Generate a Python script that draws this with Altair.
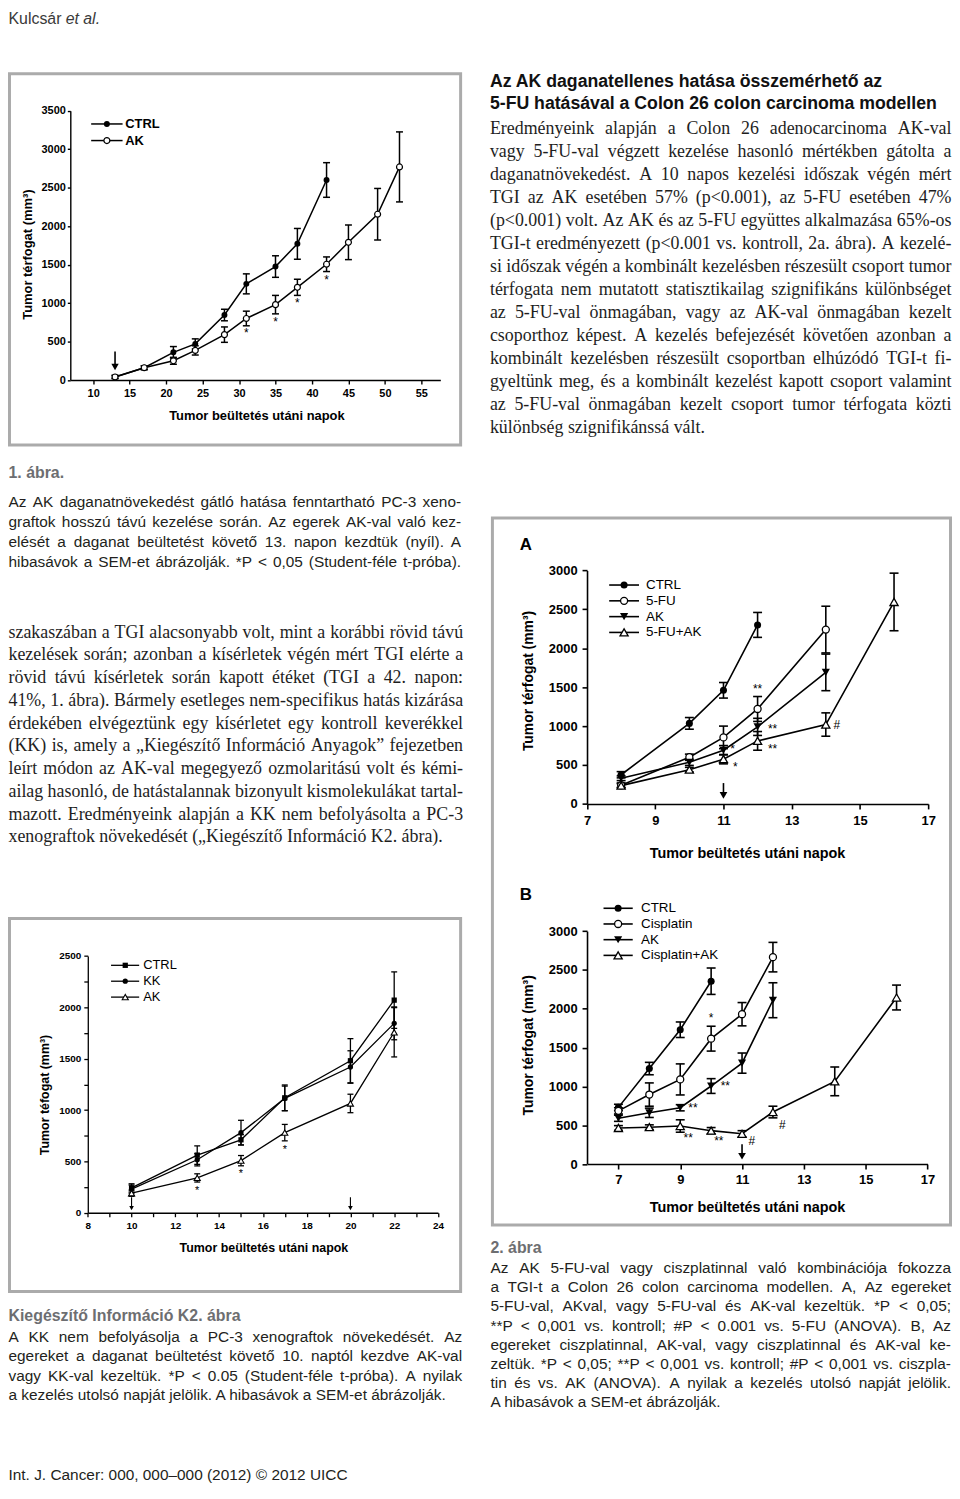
import unicodedata
import altair as alt
import pandas as pd

SANS = "Liberation Sans"
SERIF = "Liberation Serif"
W, H = 950, 1478
OX = OY = 8

# ---------------- data ----------------
# Figure 1 (PC-3, long-term AK treatment)
f1_ctrl_days = [13, 17, 21, 24, 28, 31, 35, 38, 42]
f1_ctrl_vals = [40, 160, 360, 470, 845, 1250, 1475, 1770, 2600]
f1_ctrl_sem = [20, 25, 75, 65, 75, 130, 140, 200, 225]
f1_ak_days = [13, 17, 21, 24, 28, 31, 35, 38, 42, 45, 49, 52]
f1_ak_vals = [40, 160, 250, 385, 590, 800, 980, 1205, 1505, 1790, 2155, 2770]
f1_ak_sem = [20, 25, 45, 60, 100, 95, 120, 105, 95, 225, 335, 455]
f1_star_days = [31, 35, 38, 42]
f1_star_vals = [610, 750, 995, 1305]
f1_star_text = ["*", "*", "*", "*"]
f1_arrow_days = [13]
f1_arrow_top = [370]
f1_arrow_head = [170]
f1_xticks = [10, 15, 20, 25, 30, 35, 40, 45, 50, 55]
f1_yticks = [0, 500, 1000, 1500, 2000, 2500, 3000, 3500]
f1_names = ["CTRL", "AK"]

# Figure 2A (Colon 26, 5-FU)
a_ctrl_days = [8, 10, 11, 12]
a_ctrl_vals = [375, 1035, 1460, 2300]
a_ctrl_sem = [40, 75, 100, 160]
a_fu_days = [8, 10, 11, 12, 14]
a_fu_vals = [240, 600, 855, 1220, 2240]
a_fu_sem = [30, 40, 145, 160, 300]
a_ak_days = [8, 10, 11, 12, 14]
a_ak_vals = [330, 535, 690, 990, 1690]
a_ak_sem = [30, 40, 60, 110, 235]
a_fuak_days = [8, 10, 11, 12, 14, 16]
a_fuak_vals = [235, 440, 575, 810, 1020, 2595]
a_fuak_sem = [25, 30, 60, 120, 150, 370]
a_star_days = [12, 11.27, 11.35, 12.44, 12.44, 14.32]
a_star_vals = [1470, 700, 472, 965, 700, 1010]
a_star_text = ["**", "*", "*", "**", "**", "#"]
a_arrow_days = [11]
a_arrow_top = [268]
a_arrow_head = [110]
a_xticks = [7, 9, 11, 13, 15, 17]
a_yticks = [0, 500, 1000, 1500, 2000, 2500, 3000]
a_names = ["CTRL", "5-FU", "AK", "5-FU+AK"]

# Figure 2B (Colon 26, cisplatin)
b_ctrl_days = [7, 8, 9, 10]
b_ctrl_vals = [730, 1230, 1730, 2355]
b_ctrl_sem = [40, 80, 100, 170]
b_cis_days = [7, 8, 9, 10, 11, 12]
b_cis_vals = [685, 895, 1090, 1615, 1930, 2665]
b_cis_sem = [40, 150, 200, 160, 150, 190]
b_ak_days = [7, 8, 9, 10, 11, 12]
b_ak_vals = [590, 660, 725, 1005, 1300, 2110]
b_ak_sem = [40, 60, 40, 95, 130, 225]
b_cisak_days = [7, 8, 9, 10, 11, 12, 14, 16]
b_cisak_vals = [465, 475, 490, 430, 390, 670, 1065, 2145]
b_cisak_sem = [30, 30, 80, 40, 40, 75, 185, 160]
b_star_days = [10, 10.46, 9.41, 9.26, 10.25, 11.32, 12.3]
b_star_vals = [1880, 1010, 726, 333, 298, 298, 504]
b_star_text = ["*", "**", "**", "**", "**", "#", "#"]
b_arrow_days = [11]
b_arrow_top = [256]
b_arrow_head = [100]
b_xticks = [7, 9, 11, 13, 15, 17]
b_yticks = [0, 500, 1000, 1500, 2000, 2500, 3000]
b_names = ["CTRL", "Cisplatin", "AK", "Cisplatin+AK"]

# Supplementary K2 (PC-3, KK control)
k_ctrl_days = [10, 13, 15, 17, 20, 22]
k_ctrl_vals = [242, 561, 710, 1119, 1480, 2070]
k_ctrl_sem = [40, 90, 50, 125, 215, 275]
k_kk_days = [10, 13, 15, 17, 20, 22]
k_kk_vals = [230, 516, 780, 1113, 1419, 1844]
k_kk_sem = [40, 60, 120, 120, 158, 160]
k_ak_days = [10, 13, 15, 17, 20, 22]
k_ak_vals = [190, 339, 507, 780, 1064, 1757]
k_ak_sem = [30, 40, 50, 80, 90, 240]
k_star_days = [13, 15, 17]
k_star_vals = [216, 377, 609]
k_star_text = ["*", "*", "*"]
k_arrow_days = [10, 20]
k_arrow_top = [152, 152]
k_arrow_head = [45, 45]
k_xticks = list(range(8, 25))
k_yticks = list(range(0, 2501, 250))
k_names = ["CTRL", "KK", "AK"]

# ---------------- texts ----------------
header_a = "Kulcsár"
header_b = "et al."
right_heading = ["Az AK daganatellenes hatása összemérhető az",
                 "5-FU hatásával a Colon 26 colon carcinoma modellen"]
right_body = [
    "Eredményeink alapján a Colon 26 adenocarcinoma AK-val",
    "vagy 5-FU-val végzett kezelése hasonló mértékben gátolta a",
    "daganatnövekedést. A 10 napos kezelési időszak végén mért",
    "TGI az AK esetében 57% (p<0.001), az 5-FU esetében 47%",
    "(p<0.001) volt. Az AK és az 5-FU együttes alkalmazása 65%-os",
    "TGI-t eredményezett (p<0.001 vs. kontroll, 2a. ábra). A kezelé-",
    "si időszak végén a kombinált kezelésben részesült csoport tumor",
    "térfogata nem mutatott statisztikailag szignifikáns különbséget",
    "az 5-FU-val önmagában, vagy az AK-val önmagában kezelt",
    "csoporthoz képest. A kezelés befejezését követően azonban a",
    "kombinált kezelésben részesült csoportban elhúzódó TGI-t fi-",
    "gyeltünk meg, és a kombinált kezelést kapott csoport valamint",
    "az 5-FU-val önmagában kezelt csoport tumor térfogata közti",
    "különbség szignifikánssá vált.",
]
cap1_head = "1. ábra."
cap1_lines = [
    "Az AK daganatnövekedést gátló hatása fenntartható PC-3 xeno-",
    "graftok hosszú távú kezelése során. Az egerek AK-val való kez-",
    "elését a daganat beültetést követő 13. napon kezdtük (nyíl). A",
    "hibasávok a SEM-et ábrázolják. *P < 0,05 (Student-féle t-próba).",
]
left_body = [
    "szakaszában a TGI alacsonyabb volt, mint a korábbi rövid távú",
    "kezelések során; azonban a kísérletek végén mért TGI elérte a",
    "rövid távú kísérletek során kapott étéket (TGI a 42. napon:",
    "41%, 1. ábra). Bármely esetleges nem-specifikus hatás kizárása",
    "érdekében elvégeztünk egy kísérletet egy kontroll keverékkel",
    "(KK) is, amely a „Kiegészítő Információ Anyagok” fejezetben",
    "leírt módon az AK-val megegyező ozmolaritású volt és kémi-",
    "ailag hasonló, de hatástalannak bizonyult kismolekulákat tartal-",
    "mazott. Eredményeink alapján a KK nem befolyásolta a PC-3",
    "xenograftok növekedését („Kiegészítő Információ K2. ábra).",
]
capk_head = "Kiegészítő Információ K2. ábra"
capk_lines = [
    "A KK nem befolyásolja a PC-3 xenograftok növekedését. Az",
    "egereket a daganat beültetést követő 10. naptól kezdve AK-val",
    "vagy KK-val kezeltük. *P < 0.05 (Student-féle t-próba). A nyilak",
    "a kezelés utolsó napját jelölik. A hibasávok a SEM-et ábrázolják.",
]
cap2_head = "2. ábra"
cap2_lines = [
    "Az AK 5-FU-val vagy ciszplatinnal való kombinációja fokozza",
    "a TGI-t a Colon 26 colon carcinoma modellen. A, Az egereket",
    "5-FU-val, AKval, vagy 5-FU-val és AK-val kezeltük. *P < 0,05;",
    "**P < 0,001 vs. kontroll; #P < 0.001 vs. 5-FU (ANOVA). B, Az",
    "egereket ciszplatinnal, AK-val, vagy ciszplatinnal és AK-val ke-",
    "zeltük. *P < 0,05; **P < 0,001 vs. kontroll; #P < 0,001 vs. ciszpla-",
    "tin és vs. AK (ANOVA). A nyilak a kezelés utolsó napját jelölik.",
    "A hibasávok a SEM-et ábrázolják.",
]
footer = "Int. J. Cancer: 000, 000–000 (2012) © 2012 UICC"
x_title = "Tumor beültetés utáni napok"

# ---------------- font metrics (Arial / Times compatible) ----------------
ARIAL = {" ": 278, "#": 556, "%": 889, "(": 333, ")": 333, "*": 389, "+": 584, ",": 278,
         "-": 333, ".": 278, ":": 278, ";": 278, "<": 584, "–": 556, "„": 333, "”": 333,
         "©": 737}
for c in "0123456789":
    ARIAL[c] = 556
ARIAL.update(dict(zip("ABCDEFGHIJKLMNOPQRSTUVWXYZ",
                      [667, 667, 722, 722, 667, 611, 778, 722, 278, 500, 667, 556, 833,
                       722, 778, 667, 778, 722, 667, 611, 722, 667, 944, 667, 667, 611])))
ARIAL.update(dict(zip("abcdefghijklmnopqrstuvwxyz",
                      [556, 556, 500, 556, 556, 278, 556, 556, 222, 222, 500, 222, 833,
                       556, 556, 556, 556, 333, 500, 278, 556, 500, 722, 500, 500, 500])))
TIMES = {" ": 250, "#": 500, "%": 833, "(": 333, ")": 333, "*": 500, "+": 564, ",": 250,
         "-": 333, ".": 250, ":": 278, ";": 278, "<": 564, "–": 500, "„": 444, "”": 444}
for c in "0123456789":
    TIMES[c] = 500
TIMES.update(dict(zip("ABCDEFGHIJKLMNOPQRSTUVWXYZ",
                      [722, 667, 667, 722, 611, 556, 722, 722, 333, 389, 722, 611, 889,
                       722, 722, 556, 722, 667, 556, 611, 722, 722, 944, 722, 722, 611])))
TIMES.update(dict(zip("abcdefghijklmnopqrstuvwxyz",
                      [444, 500, 444, 500, 444, 333, 500, 500, 278, 278, 500, 278, 778,
                       500, 500, 500, 500, 333, 389, 278, 500, 500, 722, 500, 500, 444])))


def text_width(s, table, fs):
    tot = 0
    for ch in s:
        if ch in table:
            tot += table[ch]
        else:
            tot += table.get(unicodedata.normalize("NFD", ch)[0], 500)
    return tot * fs / 1000.0


# ---------------- helpers ----------------
def px(v):
    return v - OX


def py(v):
    return v - OY


def span(d0, d1, v0, p0, v1, p1, off):
    k = (p1 - p0) / (v1 - v0)
    return [p0 + (d0 - v0) * k - off, p0 + (d1 - v0) * k - off]


STYLES = {
    "fcircle": dict(shape="circle", filled=True, color="black"),
    "ocircle": dict(shape="circle", filled=True, fill="white", stroke="black"),
    "ftri": dict(shape="triangle-down", filled=True, color="black"),
    "otri": dict(shape="triangle-up", filled=True, fill="white", stroke="black"),
    "fsquare": dict(shape="square", filled=True, color="black"),
}


def xaxis(values, axis_y, fs, tick, pad, tfs, tx, ty, lw, expr=None):
    kw = dict(orient="bottom", offset=py(axis_y) - H, values=values, format="d",
              grid=False, domainColor="black", domainWidth=lw, tickColor="black",
              tickWidth=lw, tickSize=tick, labelPadding=pad, labelFont=SANS,
              labelFontWeight="bold", labelFontSize=fs, labelColor="black",
              labelFlush=False, labelOverlap=False, title=x_title, titleFont=SANS,
              titleFontWeight="bold", titleFontSize=tfs, titleColor="black",
              titleX=px(tx), titleY=ty - axis_y, titleAlign="center",
              titleBaseline="middle", titleAngle=0)
    if expr:
        kw["labelExpr"] = expr
    return alt.Axis(**kw)


def yaxis(values, axis_x, fs, tick, pad, title, tfs, tx, ty, lw, expr=None):
    kw = dict(orient="left", offset=-px(axis_x), values=values, format="d",
              grid=False, domainColor="black", domainWidth=lw, tickColor="black",
              tickWidth=lw, tickSize=tick, labelPadding=pad, labelFont=SANS,
              labelFontWeight="bold", labelFontSize=fs, labelColor="black",
              labelFlush=False, labelOverlap=False, title=title, titleFont=SANS,
              titleFontWeight="bold", titleFontSize=tfs, titleColor="black",
              titleX=tx - axis_x, titleY=py(ty), titleAlign="center",
              titleBaseline="middle", titleAngle=270)
    if expr:
        kw["labelExpr"] = expr
    return alt.Axis(**kw)


def panel(series, stars, arrows, xdom, xr, ydom, yr, xax, yax, lw, cap, ms, msw,
          star_fs, head, arrow_w):
    rows = []
    for name, days, vals, sems, st in series:
        for d, v, e in zip(days, vals, sems):
            rows.append({"series": name, "day": d, "val": v, "lo": v - e, "hi": v + e})
    df = pd.DataFrame(rows)
    xs = alt.Scale(domain=xdom, range=xr, nice=False, zero=False)
    ys = alt.Scale(domain=ydom, range=yr, nice=False, zero=False)
    X = alt.X("day:Q", scale=xs, axis=xax)

    def Y(f):
        return alt.Y(f + ":Q", scale=ys, axis=yax)

    base = alt.Chart(df)
    layers = [
        base.mark_line(color="black", strokeWidth=lw).encode(X, Y("val"), detail="series:N"),
        base.mark_rule(color="black", strokeWidth=lw).encode(X, Y("lo"), y2="hi:Q"),
        base.mark_rule(color="black", strokeWidth=lw, xOffset=-cap / 2, x2Offset=cap / 2).encode(
            X, x2="day:Q", y=Y("hi")),
        base.mark_rule(color="black", strokeWidth=lw, xOffset=-cap / 2, x2Offset=cap / 2).encode(
            X, x2="day:Q", y=Y("lo")),
    ]
    for name, days, vals, sems, st in series:
        sz = ms * (1.35 if "tri" in st else 1.0)
        layers.append(base.transform_filter(alt.datum.series == name).mark_point(
            size=sz, opacity=1, strokeWidth=msw, **STYLES[st]).encode(X, Y("val")))
    sd, sv, stx = stars
    sdf = pd.DataFrame({"day": sd, "val": sv, "txt": stx})
    layers.append(alt.Chart(sdf).mark_text(font=SANS, fontSize=star_fs, color="black",
                                           align="center", baseline="middle").encode(
        X, Y("val"), text="txt:N"))
    ad, at, ah = arrows
    adf = pd.DataFrame({"day": ad, "top": at, "head": ah})
    layers.append(alt.Chart(adf).mark_rule(color="black", strokeWidth=arrow_w).encode(
        X, Y("top"), y2="head:Q"))
    layers.append(alt.Chart(adf).mark_point(shape="triangle-down", filled=True, color="black",
                                            size=head, opacity=1).encode(X, Y("head")))
    return alt.layer(*layers)


def legend(names, styles, y0, dy, xl0, xl1, xm, xt, fs, weight, lw, ms, msw):
    n = len(names)
    df = pd.DataFrame({"row": list(range(n)), "name": names})
    ys = alt.Scale(domain=[0, n - 1], range=[py(y0), py(y0 + (n - 1) * dy)], nice=False, zero=False)
    Yr = alt.Y("row:Q", scale=ys, axis=None)
    base = alt.Chart(df)
    layers = [base.mark_rule(color="black", strokeWidth=lw).encode(
        x=alt.value(px(xl0)), x2=alt.value(px(xl1)), y=Yr)]
    for nm, st in zip(names, styles):
        sz = ms * (1.35 if "tri" in st else 1.0)
        layers.append(base.transform_filter(alt.datum.name == nm).mark_point(
            size=sz, opacity=1, strokeWidth=msw, **STYLES[st]).encode(x=alt.value(px(xm)), y=Yr))
    layers.append(base.mark_text(align="left", baseline="middle", font=SANS, fontSize=fs,
                                 fontWeight=weight, color="black").encode(
        x=alt.value(px(xt)), y=Yr, text="name:N"))
    return alt.layer(*layers)


def text_line(txt, x, y, fs, font, color, weight="normal", style="normal"):
    return alt.Chart(pd.DataFrame({"txt": [txt]})).mark_text(
        align="left", baseline="middle", font=font, fontSize=fs, color=color,
        fontWeight=weight, fontStyle=style).encode(
        x=alt.value(px(x)), y=alt.value(py(y)), text="txt:N")


def para(lines, x0, x1, y0, lh, fs, font, table, color, justify=None, weight="normal"):
    n = len(lines)
    if justify is None:
        justify = [i < n - 1 for i in range(n)]
    recs = []
    for r, line in enumerate(lines):
        if not justify[r]:
            recs.append({"row": r, "txt": line, "xo": 0.0})
            continue
        words = line.split(" ")
        ws = [text_width(w, table, fs) for w in words]
        gap = (x1 - x0 - sum(ws)) / max(len(words) - 1, 1)
        gap = max(gap, 0.6 * table[" "] * fs / 1000.0)
        xo = 0.0
        for w, wd in zip(words, ws):
            recs.append({"row": r, "txt": w, "xo": xo})
            xo += wd + gap
    df = pd.DataFrame(recs)
    Xs = alt.X("xo:Q", scale=alt.Scale(domain=[0, 1000], range=[px(x0), px(x0) + 1000],
                                        nice=False, zero=False), axis=None)
    Ys = alt.Y("row:Q", scale=alt.Scale(domain=[0, n - 1], range=[py(y0), py(y0 + (n - 1) * lh)],
                                         nice=False, zero=False), axis=None)
    return alt.Chart(df).mark_text(align="left", baseline="middle", font=font, fontSize=fs,
                                   color=color, fontWeight=weight).encode(
        x=Xs, y=Ys, text="txt:N")


def frame(x0, y0, x1, y1):
    return alt.Chart(pd.DataFrame({"f": [0]})).mark_rect(
        fill="white", fillOpacity=0, stroke="#ababab", strokeWidth=3).encode(
        x=alt.value(px(x0)), x2=alt.value(px(x1)), y=alt.value(py(y0)), y2=alt.value(py(y1)))


# ---------------- panels ----------------
p1 = panel(
    [("CTRL", f1_ctrl_days, f1_ctrl_vals, f1_ctrl_sem, "fcircle"),
     ("AK", f1_ak_days, f1_ak_vals, f1_ak_sem, "ocircle")],
    (f1_star_days, f1_star_vals, f1_star_text),
    (f1_arrow_days, f1_arrow_top, f1_arrow_head),
    [6.9, 57.6], span(6.9, 57.6, 10, 93.7, 55, 424, OX),
    [0, 3500], span(0, 3500, 0, 377.7, 3500, 106.7, OY),
    xaxis(f1_xticks, 377.7, 11, 4, 4, 13, 258, 413, 1.4),
    yaxis(f1_yticks, 70.7, 11, 3, 2, "Tumor térfogat (mm³)", 13, 28, 251, 1.4),
    lw=1.5, cap=7, ms=36, msw=1.2, star_fs=12, head=55, arrow_w=1.6)
l1 = legend(f1_names, ["fcircle", "ocircle"], 120, 16.7, 91.7, 123.3, 107.5, 126,
            13, "bold", 1.5, 36, 1.2)

pa = panel(
    [("CTRL", a_ctrl_days, a_ctrl_vals, a_ctrl_sem, "fcircle"),
     ("5-FU", a_fu_days, a_fu_vals, a_fu_sem, "ocircle"),
     ("AK", a_ak_days, a_ak_vals, a_ak_sem, "ftri"),
     ("5-FU+AK", a_fuak_days, a_fuak_vals, a_fuak_sem, "otri")],
    (a_star_days, a_star_vals, a_star_text),
    (a_arrow_days, a_arrow_top, a_arrow_head),
    [7, 17], span(7, 17, 7, 590.7, 17, 934, OX),
    [0, 3000], span(0, 3000, 0, 804.3, 3000, 569.3, OY),
    xaxis(a_xticks, 804.3, 13, 5, 6, 14.5, 751.7, 854.3, 1.6),
    yaxis(a_yticks, 590.7, 13, 5, 5, "Tumor térfogat (mm³)", 14, 531.7, 680, 1.6),
    lw=1.6, cap=9, ms=50, msw=1.3, star_fs=12, head=60, arrow_w=1.6)
la = legend(a_names, ["fcircle", "ocircle", "ftri", "otri"], 584, 15.9, 613, 643, 628, 650,
            13.5, "normal", 1.6, 50, 1.3)

pb = panel(
    [("CTRL", b_ctrl_days, b_ctrl_vals, b_ctrl_sem, "fcircle"),
     ("Cisplatin", b_cis_days, b_cis_vals, b_cis_sem, "ocircle"),
     ("AK", b_ak_days, b_ak_vals, b_ak_sem, "ftri"),
     ("Cisplatin+AK", b_cisak_days, b_cisak_vals, b_cisak_sem, "otri")],
    (b_star_days, b_star_vals, b_star_text),
    (b_arrow_days, b_arrow_top, b_arrow_head),
    [6, 17], span(6, 17, 7, 622.3, 17, 933.3, OX),
    [0, 3000], span(0, 3000, 0, 1166.7, 3000, 932.3, OY),
    xaxis(b_xticks, 1166.7, 13, 5, 5, 14.5, 751.7, 1210, 1.6),
    yaxis(b_yticks, 590.7, 13, 5, 5, "Tumor térfogat (mm³)", 14, 531.7, 1046.7, 1.6),
    lw=1.6, cap=9, ms=50, msw=1.3, star_fs=12, head=60, arrow_w=1.6)
lb = legend(b_names, ["fcircle", "ocircle", "ftri", "otri"], 909.3, 15.8, 607.3, 636.7, 622, 645,
            13.5, "normal", 1.6, 50, 1.3)

pk = panel(
    [("CTRL", k_ctrl_days, k_ctrl_vals, k_ctrl_sem, "fsquare"),
     ("KK", k_kk_days, k_kk_vals, k_kk_sem, "fcircle"),
     ("AK", k_ak_days, k_ak_vals, k_ak_sem, "otri")],
    (k_star_days, k_star_vals, k_star_text),
    (k_arrow_days, k_arrow_top, k_arrow_head),
    [8, 24], span(8, 24, 8, 88.3, 24, 440.7, OX),
    [0, 2500], span(0, 2500, 0, 1215.7, 2500, 957.3, OY),
    xaxis(k_xticks, 1215.7, 10, 4, 4, 12.5, 265, 1251, 1.3,
          expr="datum.value % 2 === 0 ? datum.label : ''"),
    yaxis(k_yticks, 88.3, 10, 4, 3, "Tumor téfogat (mm³)", 12.5, 45, 1096.7, 1.3,
          expr="datum.value % 500 === 0 ? datum.label : ''"),
    lw=1.3, cap=6, ms=28, msw=1.1, star_fs=11, head=22, arrow_w=1.1)
lk = legend(k_names, ["fsquare", "fcircle", "otri"], 966.7, 16, 111.7, 140, 126, 144,
            13, "normal", 1.3, 28, 1.1)

# ---------------- texts ----------------
CAP = "#231f20"
HEAD = "#6d6e71"
BODY = "#1e1e1e"
texts = [
    text_line(header_a, 8.5, 14, 16, SANS, "#3a3a3a"),
    text_line(header_b, 66, 14, 16, SANS, "#3a3a3a", style="italic"),
    para(right_heading, 493, 957, 78, 22, 17.8, SANS, ARIAL, "#111111",
         justify=[False, False], weight="bold"),
    para(right_body, 493, 957.5, 125, 23.15, 18, SERIF, TIMES, BODY),
    text_line(cap1_head, 8.5, 471, 16, SANS, HEAD, weight="bold"),
    para(cap1_lines, 8.5, 464, 500, 20.2, 15.5, SANS, ARIAL, CAP, justify=[True] * 4),
    para(left_body, 8.5, 466, 632, 22.9, 18, SERIF, TIMES, BODY),
    text_line(capk_head, 8.5, 1320, 16, SANS, HEAD, weight="bold"),
    para(capk_lines, 8.5, 465, 1340.5, 19.6, 15.5, SANS, ARIAL, CAP),
    text_line(cap2_head, 493.5, 1251, 16, SANS, HEAD, weight="bold"),
    para(cap2_lines, 493.5, 957, 1271.5, 19.25, 15.5, SANS, ARIAL, CAP),
    text_line(footer, 8.5, 1480, 15.5, SANS, CAP),
    text_line("A", 523, 544, 17, SANS, "black", weight="bold"),
    text_line("B", 523, 896, 17, SANS, "black", weight="bold"),
]

frames = [frame(9.5, 69.5, 463.5, 443), frame(495.5, 516.5, 956.5, 1228),
          frame(9.5, 919.5, 463.5, 1295)]

chart = alt.layer(*frames, p1, l1, pa, la, pb, lb, pk, lk, *texts).resolve_scale(
    x="independent", y="independent").properties(
    width=W, height=H, padding=0, autosize=alt.AutoSizeParams(type="none"),
    background="white").configure_view(strokeWidth=0)

chart.save("out.html", embed_options={"renderer": "svg", "actions": False})
